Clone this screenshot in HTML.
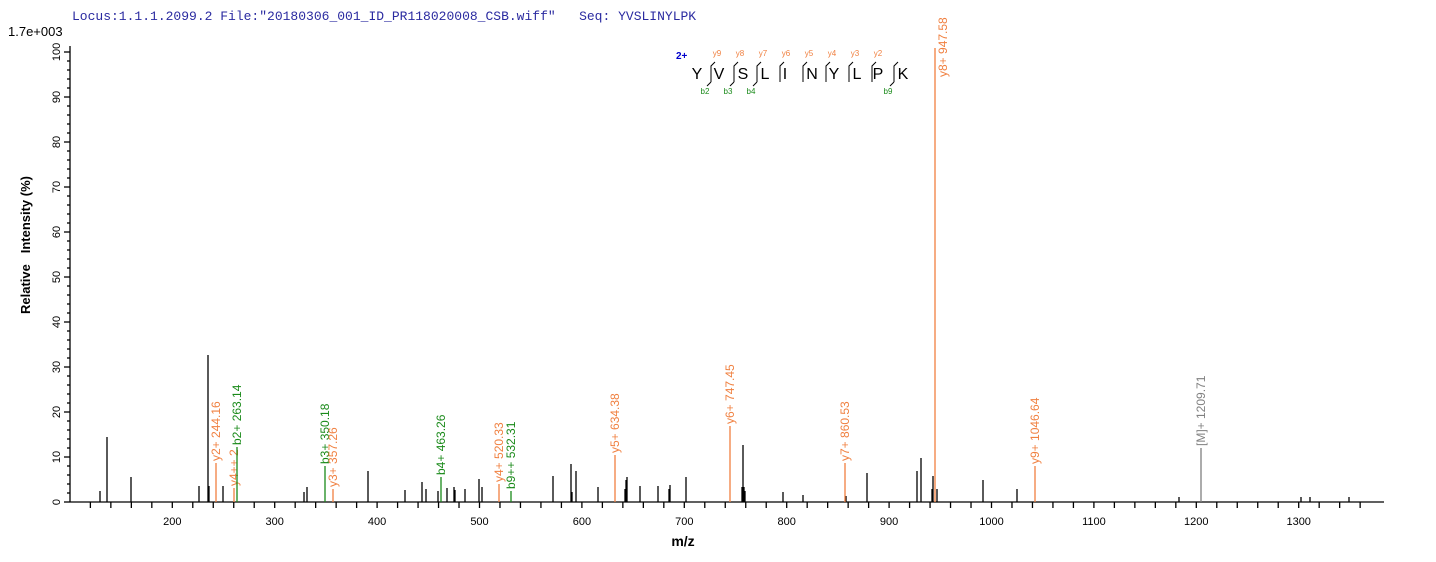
<!DOCTYPE html>
<html><head><meta charset="utf-8"><style>
html,body{margin:0;padding:0;background:#fff;width:1436px;height:562px;overflow:hidden}
svg text{font-family:"Liberation Sans",sans-serif}
</style></head><body>
<svg width="1436" height="562" xmlns="http://www.w3.org/2000/svg">
<text x="72" y="20" style="font-family:'Liberation Mono',monospace;white-space:pre" font-size="13" fill="#2a2aa0">Locus:1.1.1.2099.2 File:"20180306_001_ID_PR118020008_CSB.wiff"   Seq: YVSLINYLPK</text>
<text x="8" y="36" font-size="13" fill="#000">1.7e+003</text>
<g id="ax" stroke="#000" stroke-width="1.3"></g>
<g id="pk"></g>
<text transform="translate(30,245) rotate(-90)" text-anchor="middle" font-size="13" font-weight="bold" style="white-space:pre">Relative   Intensity (%)</text>
<text x="683" y="546" text-anchor="middle" font-size="14" font-weight="bold">m/z</text>
<g id="seq"></g>
</svg>
<script>
const NS="http://www.w3.org/2000/svg";
function el(p,t,a,txt){const e=document.createElementNS(NS,t);for(const k in a)e.setAttribute(k,a[k]);if(txt!=null)e.textContent=txt;p.appendChild(e);return e;}
const ax=document.getElementById('ax'),svg=document.querySelector('svg');
el(ax,'line',{x1:70,y1:46,x2:70,y2:502});
el(ax,'line',{x1:70,y1:502,x2:1384,y2:502});
for(let p=0;p<=100;p+=2){const y=502-4.5*p;const maj=p%10==0;el(ax,'line',{x1:maj?64:67,y1:y,x2:70,y2:y});
 if(maj)el(svg,'text',{transform:`translate(60,${y}) rotate(-90)`,'text-anchor':'middle','font-size':11},p);}
const X=m=>172.3+(m-200)*1.024;
for(let m=120;m<=1360;m+=20){const x=X(m);el(ax,'line',{x1:x,y1:502,x2:x,y2:508});
 if(m%100==0)el(svg,'text',{x:x,y:525,'text-anchor':'middle','font-size':11},m);}
const pk=document.getElementById('pk');
const blk=[[100,491],[107,437],[131,477],[199,486],[208,355],[209,486],[223,486],[304,492],[307,487],[368,471],[405,490],[422,482],[426,489],[438,491],[447,488],[454,487],[455,490],[465,489],[479,479],[482,487],[553,476],[571,464],[572,492],[576,471],[598,487],[625,489],[626,480],[627,477],[640,486],[658,486],[669,489],[670,485],[686,477],[742,487],[743,445],[744,487],[745,491],[783,492],[803,495],[846,496],[867,473],[917,471],[921,458],[933,476],[932,489],[937,489],[983,480],[1017,489],[1179,497],[1301,497],[1310,497],[1349,497]];
blk.forEach(([x,y])=>el(pk,'line',{x1:x,y1:502,x2:x,y2:y,stroke:'#000','stroke-width':1.3}));
const O='#f08040',G='#1a8a1a',Gr='#808080';
const ann=[[216,463,O,'y2+ 244.16'],[234,488,O,'y4++ 2'],[237,447,G,'b2+ 263.14'],[325,466,G,'b3+ 350.18'],[333,489,O,'y3+ 357.26'],[441,477,G,'b4+ 463.26'],[499,484,O,'y4+ 520.33'],[511,491,G,'b9++ 532.31'],[615,455,O,'y5+ 634.38'],[730,426,O,'y6+ 747.45'],[845,463,O,'y7+ 860.53'],[1035,466,O,'y9+ 1046.64'],[1201,448,Gr,'[M]+ 1209.71']];
ann.forEach(([x,y,c,t])=>{el(pk,'line',{x1:x,y1:502,x2:x,y2:y,stroke:c,'stroke-width':1.3});
 el(pk,'text',{transform:`translate(${x+4},${y-2}) rotate(-90)`,'font-size':12,fill:c},t);});
el(pk,'line',{x1:935,y1:502,x2:935,y2:48,stroke:O,'stroke-width':1.3});
el(pk,'text',{transform:`translate(947,77) rotate(-90)`,'font-size':12,fill:O},'y8+ 947.58');
const sq=document.getElementById('seq');
el(sq,'text',{x:676,y:59,'font-size':10,'font-weight':'bold',fill:'#0000cc'},'2+');
const L=['Y','V','S','L','I','N','Y','L','P','K'],LX=[697,719,743,765,785,812,834,857,878,903];
L.forEach((c,i)=>el(sq,'text',{x:LX[i],y:79,'text-anchor':'middle','font-size':16,fill:'#000'},c));
const S=[711,734,757,780,803,826,849,872,894];
S.forEach((x,i)=>{el(sq,'path',{d:`M${x+4},62 L${x},66 L${x},82`,stroke:'#000',fill:'none','stroke-width':1});
 if(i<8)el(sq,'text',{x:x+6,y:56,'text-anchor':'middle','font-size':8,fill:O},'y'+(9-i));});
[[0,'b2'],[1,'b3'],[2,'b4'],[8,'b9']].forEach(([i,t])=>{const x=S[i];el(sq,'path',{d:`M${x},82 L${x-4},86`,stroke:'#000',fill:'none'});
 el(sq,'text',{x:x-6,y:94,'text-anchor':'middle','font-size':8,fill:G},t);});
</script>
</body></html>
